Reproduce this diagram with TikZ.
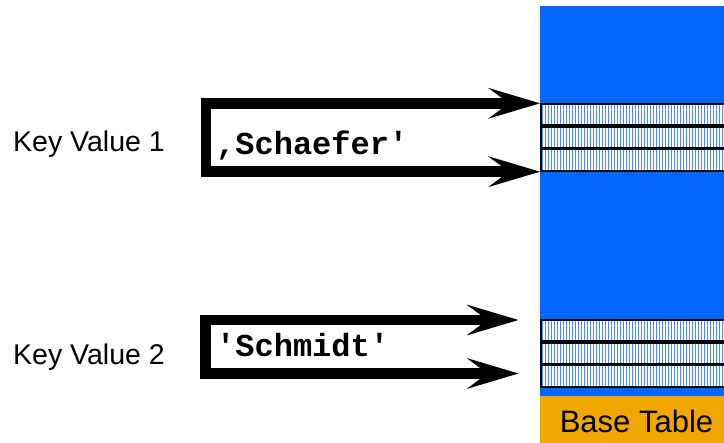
\documentclass[tikz,border=0pt]{standalone}
\usepackage{fontspec}
\setmainfont{Liberation Sans}
\newfontfamily\codefont{Liberation Mono}
\usetikzlibrary{arrows.meta}
\definecolor{tblblue}{RGB}{0,102,255}
\definecolor{stripeblue}{RGB}{70,140,255}
\definecolor{baseorange}{RGB}{240,168,0}
\tikzset{
  bracketarrow/.style={line width=10.6pt, line join=miter,
    {Stealth[length=52pt,width=31pt,inset=21pt,line width=0pt]}-{Stealth[length=52pt,width=31pt,inset=21pt,line width=0pt]}},
  rowbox/.style={draw=black, line width=1.6pt, fill=white, inner sep=0pt,
    minimum width=190pt, minimum height=21.2pt, anchor=north west,
    path picture={\foreach \i in {0,...,63}{
      \draw[stripeblue, line width=1.2pt]
        ([xshift={\i*3pt+1.5pt}]path picture bounding box.north west) --
        ([xshift={\i*3pt+1.5pt}]path picture bounding box.south west);}}},
  keylabel/.style={font=\fontsize{28.5}{34}\selectfont, inner sep=0pt, anchor=base west},
  codelabel/.style={font=\codefont\bfseries\fontsize{32}{38}\selectfont, inner sep=0pt, anchor=base west},
  tablelabel/.style={font=\fontsize{31}{37}\selectfont, inner sep=0pt, anchor=base}
}
\begin{document}
\begin{tikzpicture}[x=1pt,y=-1pt]
\useasboundingbox (0,0) rectangle (724,443);
% base table
\fill[tblblue] (540,6) rectangle (726,396);
\fill[baseorange] (540,396) rectangle (726,445);
\node[tablelabel] (base) at (636.5,432.3) {Base Table};
% rows, first key value
\node[rowbox] (t1) at (540,103.3) {};
\node[rowbox] (t2) at (t1.south west) {};
\node[rowbox] (t3) at (t2.south west) {};
% rows, second key value
\node[rowbox] (u1) at (540,319.3) {};
\node[rowbox] (u2) at (u1.south west) {};
\node[rowbox] (u3) at (u2.south west) {};
% labels
\node[keylabel] (k1) at (13,151.7) {Key Value 1};
\node[keylabel] (k2) at (13,365) {Key Value 2};
\node[codelabel] (c1) at (216,155) {,Schaefer'};
\node[codelabel] (c2) at (216,356.7) {'Schmidt'};
% bracket arrows
\draw[bracketarrow] (t1.north west) -- ++(-334,0) |- (t3.south west);
\coordinate (b1) at (518.5,320);
\coordinate (b2) at (518.5,373.5);
\draw[bracketarrow] (b1) -- ++(-313.2,0) |- (b2);
\end{tikzpicture}
\end{document}
